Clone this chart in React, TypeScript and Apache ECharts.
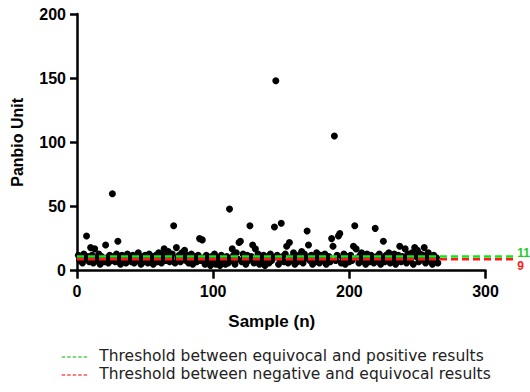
import React, { useEffect, useRef } from "react";
import * as echarts from "echarts";

// Panbio Unit per sample (samples 1..265)
const panbioValues: number[] = [
  12, 8, 10, 6, 13, 9, 27, 11, 7, 18, 12, 6, 17, 10, 8, 13, 5, 11, 9, 7,
  20, 10, 6, 12, 8, 60, 11, 7, 13, 23, 9, 5, 12, 8, 10, 6, 13, 9, 11, 7,
  12, 6, 10, 8, 14, 9, 5, 11, 7, 12, 10, 6, 13, 8, 11, 5, 9, 12, 7, 14,
  10, 6, 12, 17, 8, 11, 15, 7, 9, 13, 35, 6, 18, 10, 12, 7, 14, 9, 16, 8,
  12, 6, 10, 13, 5, 9, 11, 7, 12, 25, 8, 24, 10, 5, 12, 7, 9, 4, 11, 6,
  13, 5, 8, 10, 4, 12, 7, 9, 5, 11, 6, 48, 8, 17, 12, 5, 14, 9, 22, 23,
  7, 13, 10, 5, 12, 8, 35, 11, 20, 6, 17, 9, 13, 5, 10, 7, 12, 4, 9, 11,
  6, 13, 8, 10, 34, 148, 12, 5, 9, 37, 11, 7, 13, 19, 6, 22, 10, 8, 14, 5,
  11, 7, 12, 9, 15, 6, 13, 10, 31, 20, 8, 12, 5, 11, 7, 14, 9, 6, 12, 8,
  10, 13, 5, 9, 11, 7, 25, 19, 105, 8, 12, 27, 29, 6, 10, 13, 5, 9, 11, 7,
  12, 8, 19, 35, 17, 10, 6, 12, 14, 8, 11, 5, 13, 9, 7, 12, 10, 6, 33, 11,
  8, 13, 5, 10, 23, 7, 12, 9, 14, 6, 11, 8, 13, 5, 10, 12, 19, 7, 11, 9,
  17, 6, 13, 10, 8, 14, 5, 18, 11, 16, 7, 13, 9, 12, 18, 6, 10, 14, 8, 11,
  5, 12, 7, 10, 6,
];

const xTicks = [0, 100, 200, 300];
const yTicks = [0, 50, 100, 150, 200];

const positiveThreshold = 11;
const negativeThreshold = 9;
const thresholdLineEnd = 323; // the dashed lines run past the last x tick

const positiveName = "Threshold between equivocal and positive results";
const negativeName = "Threshold between negative and equivocal results";

const green = "#1ee01e";
const red = "#ff1a1a";

export default function App() {
  const ref = useRef<HTMLDivElement>(null);

  useEffect(() => {
    if (!ref.current) return;
    const chart = echarts.init(ref.current, null, { renderer: "svg" });
    const scatterData = panbioValues.map((v, i) => [i + 1, v]);
    const boldFont = "Liberation Sans, Arial, sans-serif";
    const legendFont = "DejaVu Sans, Open Sans, sans-serif";

    const gridTop = 14;
    const gridBottom = 121.3;
    const gridLeft = 77;
    const xMax = xTicks[xTicks.length - 1];
    const mainWidth = 530 - gridLeft - 44.5;
    const extWidth = (mainWidth * thresholdLineEnd) / xMax;

    chart.setOption({
      animation: false,
      grid: [
        { left: gridLeft, right: 44.5, top: gridTop, bottom: gridBottom },
        { left: gridLeft, width: extWidth, top: gridTop, bottom: gridBottom },
      ],
      xAxis: [
        {
          type: "value",
          gridIndex: 0,
          min: xTicks[0],
          max: xMax,
          interval: 100,
          name: "Sample (n)",
          nameLocation: "middle",
          nameGap: 42,
          nameTextStyle: {
            fontFamily: boldFont,
            fontWeight: "bold",
            fontSize: 17,
            color: "#000",
            padding: [0, 19, 0, 0],
          },
          axisLine: { show: true, onZero: false, lineStyle: { color: "#000", width: 2.5 } },
          axisTick: { show: true, length: 8, lineStyle: { color: "#000", width: 2.5 } },
          axisLabel: {
            margin: 13,
            fontFamily: boldFont,
            fontWeight: "bold",
            fontSize: 16,
            color: "#000",
          },
          splitLine: { show: false },
        },
        {
          type: "value",
          gridIndex: 1,
          min: 0,
          max: thresholdLineEnd,
          show: false,
        },
      ],
      yAxis: [
        {
          type: "value",
          gridIndex: 0,
          min: yTicks[0],
          max: yTicks[yTicks.length - 1],
          interval: 50,
          name: "Panbio Unit",
          nameLocation: "middle",
          nameGap: 52,
          nameTextStyle: {
            fontFamily: boldFont,
            fontWeight: "bold",
            fontSize: 16,
            color: "#000",
          },
          axisLine: { show: true, onZero: false, lineStyle: { color: "#000", width: 2.5 } },
          axisTick: { show: true, length: 7, lineStyle: { color: "#000", width: 2.5 } },
          axisLabel: {
            margin: 11,
            fontFamily: boldFont,
            fontWeight: "bold",
            fontSize: 16,
            color: "#000",
          },
          splitLine: { show: false },
        },
        {
          type: "value",
          gridIndex: 1,
          min: yTicks[0],
          max: yTicks[yTicks.length - 1],
          show: false,
        },
      ],
      graphic: [
        {
          type: "line",
          shape: { x1: 61.7, y1: 357, x2: 88.3, y2: 357 },
          style: { stroke: "#00b000", lineWidth: 1, lineDash: [3.5, 2] },
        },
        {
          type: "text",
          x: 99.3,
          y: 355.75,
          style: {
            text: positiveName,
            fontFamily: legendFont,
            fontSize: 15.5,
            lineHeight: 18,
            fill: "#222",
            verticalAlign: "middle",
          },
        },
        {
          type: "line",
          shape: { x1: 61.7, y1: 375, x2: 88.3, y2: 375 },
          style: { stroke: "#f00000", lineWidth: 1, lineDash: [3.5, 2] },
        },
        {
          type: "text",
          x: 99.3,
          y: 374.25,
          style: {
            text: negativeName,
            fontFamily: legendFont,
            fontSize: 15.5,
            lineHeight: 18,
            fill: "#222",
            verticalAlign: "middle",
          },
        },
      ],
      series: [
        {
          type: "scatter",
          xAxisIndex: 0,
          yAxisIndex: 0,
          data: scatterData,
          symbol: "circle",
          symbolSize: 7,
          itemStyle: { color: "#000", opacity: 1 },
          z: 2,
        },
        {
          name: positiveName,
          type: "line",
          xAxisIndex: 1,
          yAxisIndex: 1,
          data: [
            [0, positiveThreshold],
            [thresholdLineEnd, positiveThreshold],
          ],
          symbol: "none",
          clip: false,
          z: 4,
          lineStyle: { color: green, width: 2.5, type: [7, 4] },
          itemStyle: { color: green },
          endLabel: {
            show: true,
            formatter: String(positiveThreshold),
            distance: 0.5,
            offset: [0, -4],
            color: "#1ecc1e",
            fontFamily: boldFont,
            fontWeight: "bold",
            fontSize: 12,
            lineHeight: 11,
          },
        },
        {
          name: negativeName,
          type: "line",
          xAxisIndex: 1,
          yAxisIndex: 1,
          data: [
            [0, negativeThreshold],
            [thresholdLineEnd, negativeThreshold],
          ],
          symbol: "none",
          clip: false,
          z: 4,
          lineStyle: { color: red, width: 2.5, type: [7, 4] },
          itemStyle: { color: red },
          endLabel: {
            show: true,
            formatter: String(negativeThreshold),
            distance: 0.5,
            offset: [0, 7],
            color: red,
            fontFamily: boldFont,
            fontWeight: "bold",
            fontSize: 12,
            lineHeight: 11,
          },
        },
      ],
    });

    return () => chart.dispose();
  }, []);

  return (
    <div
      ref={ref}
      style={{ position: "fixed", left: 0, top: 0, width: 530, height: 392, background: "#fff" }}
    />
  );
}
